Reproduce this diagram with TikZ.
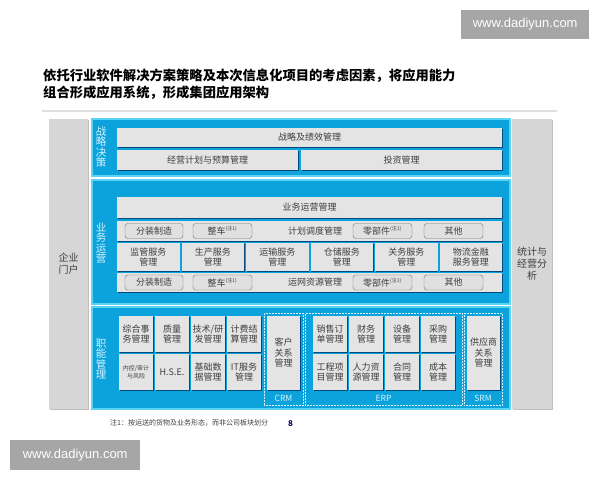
\documentclass[tikz,border=0pt]{standalone}
\usepackage{fontspec}
\setmainfont{Noto Sans CJK SC}
\newfontfamily\webfont{Liberation Sans}
\usetikzlibrary{positioning, shadows}

\definecolor{panelblue}{RGB}{12,162,220}
\definecolor{panelrim}{RGB}{90,212,243}
\definecolor{cellgray}{RGB}{228,228,228}
\definecolor{sidegray}{RGB}{214,214,214}
\definecolor{inktext}{RGB}{62,62,62}
\definecolor{palelabel}{RGB}{214,243,255}

\begin{document}
\begin{tikzpicture}[x=1pt, y=-1pt, node distance=2pt,
    wmbox/.style={fill=black!35, text=white, font=\webfont\fontsize{13}{14}\selectfont, inner sep=0pt},
    titletext/.style={font=\bfseries\fontsize{13.3}{15}\selectfont, text=black, inner sep=0pt},
    side/.style={fill=sidegray, inner sep=0pt, outer sep=0pt, align=center, text=inktext,
        font=\fontsize{10}{12}\selectfont, drop shadow={shadow xshift=1pt, shadow yshift=-1pt, fill=black, opacity=0.25}},
    panel/.style={fill=panelblue, draw=panelrim, line width=1.2pt, inner sep=0pt, outer sep=0pt, anchor=north west},
    vlabel/.style={text=palelabel, align=center, inner sep=0pt, font=\fontsize{10.5}{10.5}\selectfont},
    box/.style={fill=cellgray, inner sep=0pt, outer sep=0pt, align=center, text=inktext,
        font=\fontsize{9}{10.5}\selectfont,
        drop shadow={shadow xshift=0.9pt, shadow yshift=-0.9pt, fill=black!80!blue, opacity=0.55}},
    tag/.style={fill=black!12, draw=black!55, rounded corners=3pt, inner sep=0pt, outer sep=0pt,
        minimum height=15pt, anchor=north west, text=inktext, font=\fontsize{9}{10}\selectfont},
    svc/.style={box, minimum width=62.5pt, minimum height=28pt},
    fcell/.style={box, minimum width=34pt, minimum height=36pt},
    zone/.style={draw=palelabel, densely dotted, line width=0.5pt, inner sep=0pt, outer sep=0pt, anchor=north west},
    zonename/.style={text=palelabel, font=\fontsize{8.5}{10}\selectfont, inner sep=0pt},
    note/.style={text=inktext, font=\fontsize{7}{8}\selectfont, inner sep=0pt}]
    \useasboundingbox (0,0) rectangle (600,480);
    \fill[white] (0,0) rectangle (600,480);

    % Marcas de agua
    \node[wmbox, minimum width=128pt, minimum height=29pt, anchor=north west] (wmtop) at (461,9.5) {www.dadiyun.com};
    \node[wmbox, minimum width=130pt, minimum height=30pt, anchor=north west] (wmbottom) at (10,440) {www.dadiyun.com};

    % Titulo
    \node[titletext, anchor=west] (title1) at (43,76) {依托行业软件解决方案策略及本次信息化项目的考虑因素，将应用能力};
    \node[titletext, anchor=west] (title2) at (43,93) {组合形成应用系统，形成集团应用架构};
    \fill[black!12] (42,110.2) rectangle (557,111.8);

    % Columnas laterales
    \node[side, minimum width=39pt, minimum height=290pt, anchor=north west] (portal) at (49,119) {企业\\门户};
    \node[side, minimum width=40pt, minimum height=290pt, anchor=north west] (analysis) at (512,119) {统计与\\经营分\\析};

    % Franjas azules
    \node[panel, minimum width=418pt, minimum height=57pt] (strategy) at (92,119) {};
    \node[panel, minimum width=418pt, minimum height=124pt] (operation) at (92,180) {};
    \node[panel, minimum width=418pt, minimum height=102pt] (function) at (92,307) {};
    \node[vlabel] (strategylabel) at (101,147) {战\\略\\决\\策};
    \node[vlabel] (operationlabel) at (101,243) {业\\务\\运\\营};
    \node[vlabel] (functionlabel) at (101,359) {职\\能\\管\\理};

    % Estrategia
    \node[box, minimum width=385pt, minimum height=19pt, anchor=north west] (performance) at (117,128) {战略及绩效管理};
    \node[box, minimum width=181pt, minimum height=20pt, anchor=north west] (budget) at (117,150) {经营计划与预算管理};
    \node[box, minimum width=201pt, minimum height=20pt, anchor=north west] (investment) at (301,150) {投资管理};

    % Operacion
    \node[box, minimum width=385pt, minimum height=21pt, anchor=north west] (opsmgmt) at (117,197) {业务运营管理};
    \node[box, minimum width=385pt, minimum height=20pt, anchor=north west] (schedule) at (117,221) {};
    \node[text=inktext, font=\fontsize{9}{10}\selectfont, inner sep=0pt] (scheduletext) at (315,231) {计划调度管理};
    \node[tag, minimum width=58pt] (schedA) at (125,223.5) {分装制造};
    \node[tag, minimum width=59pt] (schedB) at (193,223.5) {整车\textsuperscript{\tiny(注1)}};
    \node[tag, minimum width=59pt] (schedC) at (353,223.5) {零部件\textsuperscript{\tiny(注1)}};
    \node[tag, minimum width=59pt] (schedD) at (424,223.5) {其他};

    \node[svc, anchor=north west] (svcA) at (117,243) {监管服务\\管理};
    \node[svc, right=of svcA] (svcB) {生产服务\\管理};
    \node[svc, right=of svcB] (svcC) {运输服务\\管理};
    \node[svc, right=of svcC] (svcD) {仓储服务\\管理};
    \node[svc, right=of svcD] (svcE) {关务服务\\管理};
    \node[svc, right=of svcE] (svcF) {物流金融\\服务管理};

    \node[box, minimum width=385pt, minimum height=19pt, anchor=north west] (network) at (117,273) {};
    \node[text=inktext, font=\fontsize{9}{10}\selectfont, inner sep=0pt] (networktext) at (315,282.5) {运网资源管理};
    \node[tag, minimum width=58pt] (netA) at (125,275) {分装制造};
    \node[tag, minimum width=59pt] (netB) at (193,275) {整车\textsuperscript{\tiny(注1)}};
    \node[tag, minimum width=59pt] (netC) at (353,275) {零部件\textsuperscript{\tiny(注1)}};
    \node[tag, minimum width=59pt] (netD) at (424,275) {其他};

    % Funciones
    \node[fcell, anchor=north west] (funcA) at (119,316) {综合事\\务管理};
    \node[fcell, right=of funcA] (funcB) {质量\\管理};
    \node[fcell, right=of funcB] (funcC) {技术/研\\发管理};
    \node[fcell, right=of funcC] (funcD) {计费结\\算管理};
    \node[fcell, below=of funcA, font=\fontsize{6}{7.5}\selectfont] (funcE) {内控/审计\\与风险};
    \node[fcell, right=of funcE] (funcF) {H.S.E.};
    \node[fcell, right=of funcF] (funcG) {基础数\\据管理};
    \node[fcell, right=of funcG] (funcH) {IT服务\\管理};

    \node[zone, minimum width=39pt, minimum height=92pt] (crmzone) at (264,313) {};
    \node[box, minimum width=33pt, minimum height=74pt, anchor=north west] (crm) at (267,316) {客户\\关系\\管理};
    \node[zonename] (crmname) at (283.5,398) {CRM};

    \node[zone, minimum width=157pt, minimum height=92pt] (erpzone) at (305,313) {};
    \node[fcell, anchor=north west] (erpA) at (313,316) {销售订\\单管理};
    \node[fcell, right=of erpA] (erpB) {财务\\管理};
    \node[fcell, right=of erpB] (erpC) {设备\\管理};
    \node[fcell, right=of erpC] (erpD) {采购\\管理};
    \node[fcell, below=of erpA] (erpE) {工程项\\目管理};
    \node[fcell, right=of erpE] (erpF) {人力资\\源管理};
    \node[fcell, right=of erpF] (erpG) {合同\\管理};
    \node[fcell, right=of erpG] (erpH) {成本\\管理};
    \node[zonename] (erpname) at (383.5,398) {ERP};

    \node[zone, minimum width=38pt, minimum height=92pt] (srmzone) at (464,313) {};
    \node[box, minimum width=33pt, minimum height=74pt, anchor=north west] (srm) at (467,316) {供应商\\关系\\管理};
    \node[zonename] (srmname) at (483,398) {SRM};

    % Nota al pie
    \node[note, anchor=west] (footnote) at (110,423) {注1：按运送的货物及业务形态，而非公司板块划分};
    \node[note, anchor=west, text=blue!40!black, font=\bfseries\fontsize{8}{9}\selectfont] (pagenum) at (288,424) {8};
\end{tikzpicture}
\end{document}
